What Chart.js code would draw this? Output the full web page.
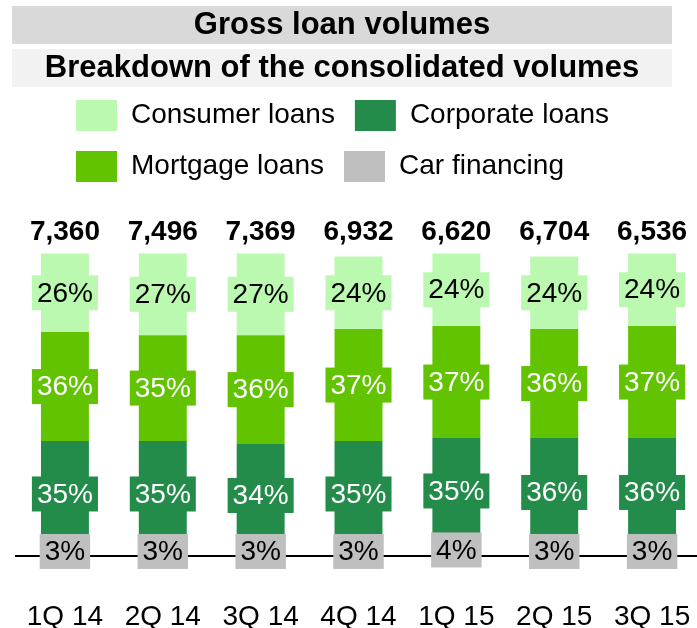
<!DOCTYPE html>
<html>
<head>
<meta charset="utf-8">
<script src="https://cdn.jsdelivr.net/npm/chart.js@4/dist/chart.umd.min.js"></script>
<style>
  html, body { margin: 0; padding: 0; background: #fff; overflow: hidden; }
  #wrap { width: 701px; height: 628px; }
</style>
</head>
<body>
<div id="wrap"><canvas id="chart" width="701" height="628"></canvas></div>
<script>
const quarters = ['1Q 14', '2Q 14', '3Q 14', '4Q 14', '1Q 15', '2Q 15', '3Q 15'];
const totals = [7360, 7496, 7369, 6932, 6620, 6704, 6536];
// shares in % of the consolidated volume
const consumer = [26, 27, 27, 24, 24, 24, 24];
const mortgage = [36, 35, 36, 37, 37, 36, 37];
const corporate = [35, 35, 34, 35, 35, 36, 36];
const car = [3, 3, 3, 3, 4, 3, 3];

const legendOrder = ['Consumer loans', 'Corporate loans', 'Mortgage loans', 'Car financing'];
const titleText = 'Gross loan volumes';
const subtitleText = 'Breakdown of the consolidated volumes';
const FONT = "'Liberation Sans', Arial, sans-serif";

// grey bands behind the title and the subtitle, text centred on the band
const titleBands = {
  id: 'titleBands',
  afterLayout(chart) {
    chart.boxes.forEach(b => {
      if (b.options && (b.options.text === titleText || b.options.text === subtitleText)) {
        b.left = 12; b.right = 672; b.width = 660;
      }
    });
    const lg = chart.legend;
    lg.left = 56;
    lg.top = 80;
  },
  beforeDraw(chart) {
    const ctx = chart.ctx;
    chart.boxes.forEach(b => {
      if (!b.options) return;
      let col = null;
      if (b.options.text === titleText) col = '#d9d9d9';
      if (b.options.text === subtitleText) col = '#f2f2f2';
      if (!col) return;
      const p = b._padding;
      ctx.save();
      ctx.fillStyle = col;
      ctx.fillRect(b.left, b.top + p.top, b.right - b.left, b.height - p.top - p.bottom);
      ctx.restore();
    });
  }
};

// percentage boxes on each segment and the total above each bar
const barLabels = {
  id: 'barLabels',
  afterDatasetsDraw(chart) {
    const ctx = chart.ctx;
    ctx.save();
    ctx.textAlign = 'center';
    ctx.textBaseline = 'middle';
    ctx.font = '28px ' + FONT;
    chart.data.datasets.forEach((ds, i) => {
      const meta = chart.getDatasetMeta(i);
      meta.data.forEach((bar, j) => {
        const {x, y, base} = bar.getProps(['x', 'y', 'base'], true);
        const cy = (y + base) / 2;
        const txt = ds.data[j] + '%';
        const w = ctx.measureText(txt).width + 10;
        ctx.fillStyle = ds.backgroundColor;
        ctx.fillRect(x - w / 2, cy - 17.5, w, 35);
        ctx.fillStyle = ds.labelColor;
        ctx.fillText(txt, x, cy + 1);
      });
    });
    const top = chart.getDatasetMeta(chart.data.datasets.length - 1);
    const yFull = chart.scales.y.getPixelForValue(100);
    ctx.font = 'bold 28px ' + FONT;
    ctx.fillStyle = '#000';
    top.data.forEach((bar, j) => {
      ctx.fillText(totals[j].toLocaleString('en-US'), bar.x, yFull - 21);
    });
    ctx.restore();
  }
};

new Chart(document.getElementById('chart'), {
  type: 'bar',
  data: {
    labels: quarters,
    datasets: [
      { label: 'Car financing', data: car, backgroundColor: '#bfbfbf', labelColor: '#000' },
      { label: 'Corporate loans', data: corporate, backgroundColor: '#238c4b', labelColor: '#fff' },
      { label: 'Mortgage loans', data: mortgage, backgroundColor: '#62c300', labelColor: '#fff' },
      { label: 'Consumer loans', data: consumer, backgroundColor: '#bbf8b0', labelColor: '#000' }
    ]
  },
  options: {
    responsive: false,
    animation: false,
    layout: { padding: { left: 16, right: 0, top: 0, bottom: 0 } },
    datasets: {
      bar: { categoryPercentage: 1, barPercentage: 0.49, borderWidth: 0 }
    },
    plugins: {
      title: {
        display: true,
        text: titleText,
        color: '#000',
        font: { family: FONT, size: 31, weight: 'bold', lineHeight: '38px' },
        padding: { top: 6, bottom: 5 }
      },
      subtitle: {
        display: true,
        text: subtitleText,
        color: '#000',
        font: { family: FONT, size: 31, weight: 'bold', lineHeight: '38px' },
        padding: { top: 0, bottom: 0 }
      },
      legend: {
        display: true,
        position: 'top',
        align: 'start',
        labels: {
          color: '#000',
          font: { family: FONT, size: 28 },
          boxWidth: 41,
          boxHeight: 31,
          padding: 20,
          sort: (a, b) => legendOrder.indexOf(a.text) - legendOrder.indexOf(b.text)
        }
      },
      tooltip: { enabled: false }
    },
    scales: {
      x: {
        stacked: true,
        grid: { display: false },
        border: { display: true, color: '#000', width: 2 },
        ticks: { color: '#000', font: { family: FONT, size: 28 }, padding: 36, maxRotation: 0 },
        afterFit: s => { s.height = 72; s.paddingLeft = 0; s.paddingRight = 0; }
      },
      y: {
        stacked: true,
        display: false,
        min: 0,
        max: 118
      }
    }
  },
  plugins: [titleBands, barLabels]
});
</script>
</body>
</html>
